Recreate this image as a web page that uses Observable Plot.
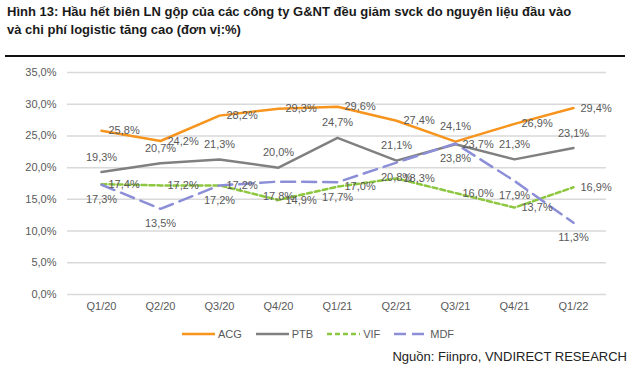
<!DOCTYPE html>
<html><head><meta charset="utf-8">
<script src="https://cdn.jsdelivr.net/npm/d3@7"></script>
<script src="https://cdn.jsdelivr.net/npm/@observablehq/plot@0.6"></script>
<style>
body{margin:0;width:630px;height:373px;background:#fff;font-family:"Liberation Sans",Arial,sans-serif;position:relative;overflow:hidden}
#title{position:absolute;left:7px;top:3px;font-weight:bold;font-size:13px;line-height:18px;color:#1a1a1a;white-space:nowrap}
#rule{position:absolute;left:5px;top:55px;width:620px;height:2px;background:#111}
#chart{position:absolute;left:0;top:60px}
#legend{position:absolute;top:328px;left:0;width:636px;display:flex;justify-content:center;gap:14px;font-size:11px;color:#595959;align-items:center}
#legend .it{display:flex;align-items:center;gap:3px}
#source{position:absolute;right:3px;top:349px;font-size:13px;color:#222}
</style></head>
<body>
<div id="title">Hình 13: Hầu hết biên LN gộp của các công ty G&amp;NT đều giảm svck do nguyên liệu đầu vào<br>và chi phí logistic tăng cao (đơn vị:%)</div>
<div id="rule"></div>
<div id="chart"></div>
<div id="legend"></div>
<div id="source">Nguồn: Fiinpro, VNDIRECT RESEARCH</div>
<script>
const quarters = ["Q1/20","Q2/20","Q3/20","Q4/20","Q1/21","Q2/21","Q3/21","Q4/21","Q1/22"];
const acg = [25.8,24.2,28.2,29.3,29.6,27.4,24.1,26.9,29.4];
const ptb = [19.3,20.7,21.3,20.0,24.7,21.1,23.7,21.3,23.1];
const vif = [17.4,17.2,17.2,14.9,17.0,18.3,16.0,13.7,16.9];
const mdf = [17.3,13.5,17.2,17.8,17.7,20.8,23.8,17.9,11.3];
const yTicks = [0,5,10,15,20,25,30,35];

const seriesNames = ["ACG","PTB","VIF","MDF"];
const seriesVals = [acg, ptb, vif, mdf];
const colors = {ACG:"#F7941D", PTB:"#808080", VIF:"#8DC63F", MDF:"#8C8FD8"};
const dashes = {ACG:null, PTB:null, VIF:"5,3", MDF:"14,7"};

const rows = seriesNames.flatMap((s,i)=>quarters.map((q,j)=>({series:s, q, v:seriesVals[i][j]})));
const fmt = v => v.toFixed(1).replace(".",",") + "%";

// default label placement per series; at Q3/21 ACG label sits above, PTB label to the right
const special = "Q3/21";
const isRight = d => (d.series==="ACG" && d.q!==special) || d.series==="VIF" || (d.series==="PTB" && d.q===special);
const isAbove = d => (d.series==="PTB" && d.q!==special) || (d.series==="ACG" && d.q===special);
const isBelow = d => d.series==="MDF";

const lineMarks = seriesNames.map(s => Plot.line(rows.filter(d=>d.series===s), {
  x:"q", y:"v", stroke: colors[s], strokeWidth: 2.5, strokeDasharray: dashes[s], curve:"linear"
}));

const labelStyle = {fill:"#595959", fontSize:11, text: d=>fmt(d.v)};
const plot = Plot.plot({
  width: 630, height: 260,
  marginLeft: 67, marginRight: 24, marginTop: 12, marginBottom: 26,
  style: {fontFamily: "'Liberation Sans', Arial, sans-serif", fontSize: "11px", color:"#595959", background:"transparent"},
  x: {type:"point", domain: quarters, padding: 0.5, label: null},
  y: {domain:[0,35], label:null},
  marks: [
    Plot.gridY(yTicks, {stroke:"#d9d9d9", strokeOpacity:1, strokeWidth:1.5}),
    Plot.axisY(yTicks, {tickSize:0, tickPadding:11, tickFormat: fmt, fill:"#595959", fontSize:11}),
    Plot.axisX(quarters, {tickSize:0, tickPadding:8, fill:"#595959", fontSize:11}),
    ...lineMarks,
    Plot.text(rows.filter(isRight), {x:"q", y:"v", ...labelStyle, textAnchor:"start", dx:7}),
    Plot.text(rows.filter(isAbove), {x:"q", y:"v", ...labelStyle, dy:-15}),
    Plot.text(rows.filter(isBelow), {x:"q", y:"v", ...labelStyle, dy:15})
  ]
});
document.getElementById("chart").appendChild(plot);

const leg = document.getElementById("legend");
for (const s of seriesNames) {
  const it = document.createElement("div"); it.className = "it";
  const dash = dashes[s] === "14,7" ? "12,6" : (dashes[s] || "");
  it.innerHTML = `<svg width="33" height="8"><line x1="0" y1="4" x2="33" y2="4" stroke="${colors[s]}" stroke-width="2.5" ${dash?`stroke-dasharray="${dash}"`:""}/></svg><span>${s}</span>`;
  leg.appendChild(it);
}
</script>
</body></html>
